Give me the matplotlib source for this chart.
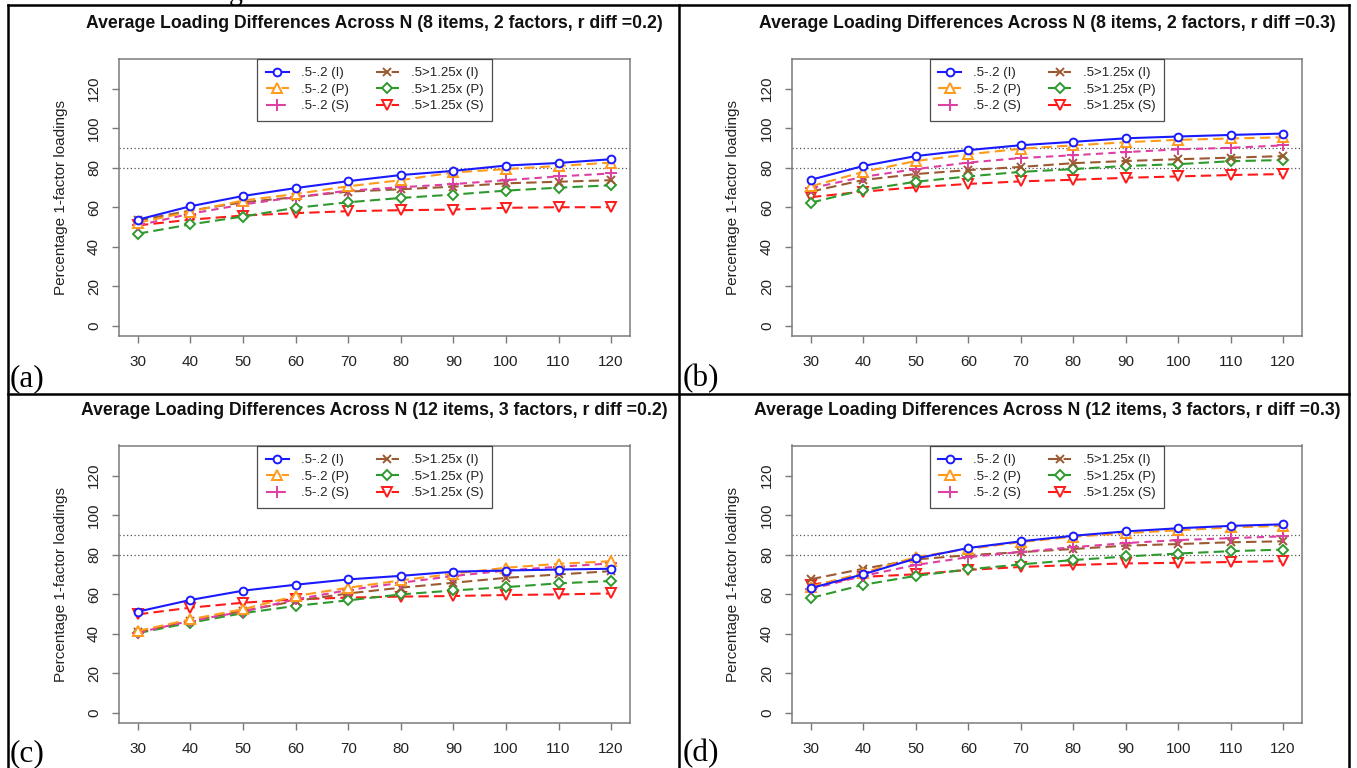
import matplotlib
matplotlib.use("Agg")
import matplotlib.pyplot as plt
from matplotlib.lines import Line2D

# ---------------- data ----------------
N = [30, 40, 50, 60, 70, 80, 90, 100, 110, 120]
series_labels = [".5-.2 (I)", ".5-.2 (P)", ".5-.2 (S)",
                 ".5>1.25x (I)", ".5>1.25x (P)", ".5>1.25x (S)"]
titles = ["Average Loading Differences Across N (8 items, 2 factors, r diff =0.2)",
          "Average Loading Differences Across N (8 items, 2 factors, r diff =0.3)",
          "Average Loading Differences Across N (12 items, 3 factors, r diff =0.2)",
          "Average Loading Differences Across N (12 items, 3 factors, r diff =0.3)"]
panel_tags = ["(a)", "(b)", "(c)", "(d)"]
y_ticks = [0, 20, 40, 60, 80, 100, 120]
ref_lines = [80, 90]

# panel (a): 8 items, 2 factors, r diff 0.2
A_I = [53.6, 60.4, 65.6, 69.6, 73.1, 76.2, 78.3, 81.0, 82.3, 84.2]
A_P = [52.0, 57.7, 63.3, 66.6, 70.5, 73.6, 77.5, 79.2, 80.8, 82.5]
A_S = [50.7, 56.6, 61.3, 65.0, 68.3, 70.0, 71.6, 73.6, 75.5, 77.0]
A_Ix = [53.2, 58.2, 62.4, 65.0, 67.8, 69.0, 70.3, 72.0, 72.8, 73.6]
A_Px = [46.5, 51.2, 55.2, 59.6, 62.4, 64.6, 66.3, 68.3, 69.8, 71.0]
A_Sx = [50.7, 53.6, 55.7, 56.9, 57.9, 58.4, 58.7, 59.6, 59.9, 59.9]

# panel (b): 8 items, 2 factors, r diff 0.3
B_I = [73.8, 80.8, 85.8, 88.8, 91.3, 93.0, 94.8, 95.7, 96.5, 97.2]
B_P = [70.5, 77.8, 83.3, 86.7, 89.5, 91.2, 92.8, 94.0, 94.7, 95.3]
B_S = [69.5, 75.3, 79.2, 82.5, 84.8, 86.2, 87.8, 89.2, 90.0, 91.2]
B_Ix = [67.8, 73.7, 76.7, 78.7, 80.3, 82.2, 83.3, 84.2, 85.0, 85.8]
B_Px = [62.2, 68.7, 72.8, 75.5, 77.8, 79.2, 80.8, 81.7, 83.2, 83.8]
B_Sx = [65.0, 67.8, 70.0, 71.7, 73.0, 73.8, 74.8, 75.5, 76.2, 76.7]

# panel (c): 12 items, 3 factors, r diff 0.2
C_I = [51.1, 57.0, 61.7, 64.7, 67.4, 69.2, 71.3, 71.9, 72.4, 72.8]
C_P = [41.3, 47.2, 52.3, 59.0, 63.2, 66.9, 70.3, 73.3, 75.3, 76.6]
C_S = [40.5, 46.4, 51.1, 57.3, 62.0, 65.7, 69.1, 71.9, 73.8, 75.5]
C_Ix = [40.8, 46.4, 51.4, 56.5, 60.3, 63.2, 65.7, 68.2, 69.9, 71.6]
C_Px = [40.2, 45.5, 50.3, 54.0, 56.8, 59.8, 61.8, 63.5, 65.4, 66.6]
C_Sx = [49.7, 53.1, 55.6, 57.3, 58.2, 58.7, 59.0, 59.5, 59.8, 60.3]

# panel (d): 12 items, 3 factors, r diff 0.3
D_I = [63.0, 70.0, 78.0, 83.3, 86.7, 89.5, 91.7, 93.3, 94.5, 95.3]
D_P = [63.7, 70.8, 78.7, 82.8, 86.3, 89.0, 90.8, 92.3, 93.7, 94.5]
D_S = [62.5, 69.2, 74.7, 78.7, 81.3, 83.7, 85.8, 87.3, 88.3, 89.2]
D_Ix = [67.5, 72.8, 77.5, 79.7, 81.2, 82.8, 84.5, 85.3, 86.2, 86.7]
D_Px = [58.0, 64.7, 69.2, 72.5, 75.0, 77.2, 79.0, 80.5, 81.7, 82.5]
D_Sx = [64.7, 68.7, 70.0, 72.2, 73.7, 74.7, 75.5, 75.8, 76.2, 76.7]

panels = [
    [A_I, A_P, A_S, A_Ix, A_Px, A_Sx],
    [B_I, B_P, B_S, B_Ix, B_Px, B_Sx],
    [C_I, C_P, C_S, C_Ix, C_Px, C_Sx],
    [D_I, D_P, D_S, D_Ix, D_Px, D_Sx],
]

# ---------------- styles ----------------
colors = ["#1a1aff", "#ff9a1a", "#dd3fa3", "#9c5a32", "#2e9a2e", "#ff1a1a"]
markers = ["o", "^", "+", "x", "D", "v"]
msizes = [5.6, 6.6, 8.0, 6.4, 5.4, 6.6]
dash_styles = [None, (0, (5, 2.5)), (0, (3.5, 2.5)), (0, (5, 2.5)), (0, (5, 2.5)), (0, (5, 2.5))]
open_marker = [True, True, False, False, True, True]

FIG_W, FIG_H = 1357, 768
fig = plt.figure(figsize=(FIG_W / 100, FIG_H / 100), dpi=100)
fig.patch.set_facecolor("white")

sans = ["Liberation Sans", "DejaVu Sans"]
serif = ["Liberation Serif", "DejaVu Serif"]

# axes boxes in pixels: (left, top, right, bottom)
boxes = [(119, 58.5, 630, 335.8), (792, 58.5, 1302, 335.8),
         (119, 445.5, 630, 722.8), (792, 445.5, 1302, 722.8)]
tag_pos = [(10, 386), (683, 386), (10, 761), (683, 761)]

def px2fig(x, y):
    return x / FIG_W, 1 - y / FIG_H

for k in range(4):
    l, t, r, b = boxes[k]
    ax = fig.add_axes([l / FIG_W, 1 - b / FIG_H, (r - l) / FIG_W, (b - t) / FIG_H])
    data = panels[k]
    for i in range(6):
        ls = "-" if dash_styles[i] is None else dash_styles[i]
        ax.plot(N, data[i], color=colors[i], linestyle=ls, linewidth=1.5,
                marker=markers[i], markersize=msizes[i],
                markerfacecolor="white" if open_marker[i] else colors[i],
                markeredgecolor=colors[i], markeredgewidth=1.4,
                label=series_labels[i], zorder=3 + (5 - i) * 0.01)
    for v in ref_lines:
        ax.axhline(v, color="#555555", linestyle=(0, (1, 2)), linewidth=0.9, zorder=1)
    ax.set_xlim(26.4, 123.6)
    ax.set_ylim(-5.2, 135.2)
    ax.set_xticks(N)
    ax.set_yticks(y_ticks)
    ax.set_xticklabels([str(n) for n in N], fontfamily=sans, fontsize=11, color="#222222")
    ax.set_yticklabels([str(v) for v in y_ticks], fontfamily=sans, fontsize=11,
                       color="#222222", rotation=90, va="center")
    for s in ax.spines.values():
        s.set_color("#7a7a7a")
        s.set_linewidth(1.1)
    ax.tick_params(axis="both", direction="out", length=5, width=1.0, colors="#7a7a7a",
                   labelcolor="#222222")
    ax.tick_params(axis="x", pad=9)
    ax.tick_params(axis="y", pad=8)
    ax.set_ylabel("Percentage 1-factor loadings", fontfamily=sans, fontsize=11,
                  color="#222222", labelpad=14)
    ax.set_title(titles[k], fontfamily=sans, fontweight="bold", fontsize=12.7,
                 color="#111111", pad=22)
    leg = ax.legend(loc="upper center", bbox_to_anchor=(0.5, 1.0), ncol=2,
                    prop={"family": sans, "size": 9.5}, frameon=True, fancybox=False,
                    edgecolor="#222222", borderaxespad=0, handlelength=1.75,
                    handletextpad=0.9, columnspacing=2.05, labelspacing=0.32,
                    borderpad=0.65)
    leg.get_frame().set_linewidth(0.9)
    for txt in leg.get_texts():
        txt.set_color("#222222")
    tx, ty = tag_pos[k]
    fx, fy = px2fig(tx, ty)
    fig.text(fx, fy, panel_tags[k], fontfamily=serif, fontsize=22.5, color="black",
             ha="left", va="baseline")

# table borders
def hline(y, x0, x1):
    fig.add_artist(Line2D([x0 / FIG_W, x1 / FIG_W], [1 - y / FIG_H, 1 - y / FIG_H],
                          transform=fig.transFigure, color="black", linewidth=1.8))

def vline(x, y0, y1):
    fig.add_artist(Line2D([x / FIG_W, x / FIG_W], [1 - y0 / FIG_H, 1 - y1 / FIG_H],
                          transform=fig.transFigure, color="black", linewidth=1.8))

hline(5, 8, 1349)
hline(394, 8, 1349)
vline(8, 5, 768)
vline(679, 5, 768)
vline(1349, 5, 768)

# clipped caption fragment at the very top (cut off in the reference as well)
fig.text(229 / FIG_W, 1.0, "g", fontfamily=serif, fontsize=20, color="black",
         ha="left", va="baseline")

fig.savefig("out.png", dpi=100, facecolor="white")
